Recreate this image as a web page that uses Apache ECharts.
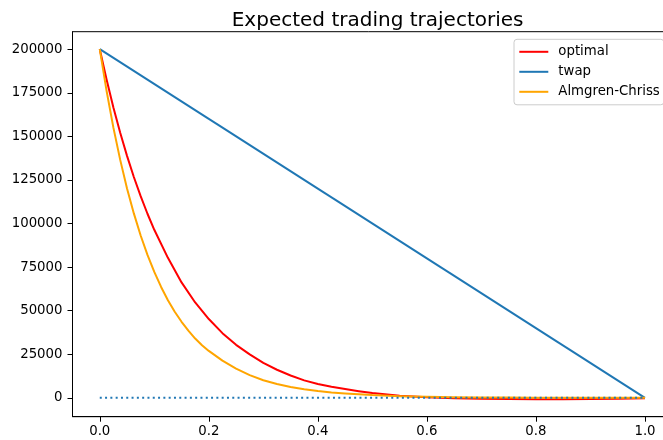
<!DOCTYPE html>
<html><head><meta charset="utf-8">
<script src="https://cdn.jsdelivr.net/npm/echarts@6/dist/echarts.min.js"></script>
<style>html,body{margin:0;padding:0;background:#fff}#c{width:663px;height:440px}</style>
</head><body><div id="c"></div>
<script>
const title = "Expected trading trajectories";
const seriesNames = ["optimal", "twap", "Almgren-Chriss"];
const optT = [0,0.0125,0.025,0.0375,0.05,0.0625,0.075,0.0875,0.1,0.125,0.15,0.175,0.2,0.225,0.25,0.275,0.3,0.325,0.35,0.375,0.4,0.425,0.45,0.475,0.5,0.55,0.6,0.65,0.7,0.75,0.8,0.85,0.9,0.95,1.0];
const optV = [200000,182600,166600,152100,138800,126700,115700,105600,96400,80300,66200,54700,45200,37100,30400,24900,20000,16100,12800,10000,7900,6300,5000,3800,2700,1200,250,-300,-550,-700,-780,-800,-750,-600,-300];
const acT = [0,0.0125,0.025,0.0375,0.05,0.0625,0.075,0.0875,0.1,0.1125,0.125,0.1375,0.15,0.1625,0.175,0.1875,0.2,0.225,0.25,0.275,0.3,0.325,0.35,0.375,0.4,0.425,0.45,0.5,0.55,0.6,0.65,0.7,0.75,0.8,0.9,1.0];
const acV = [200000,176100,155000,136500,120100,105800,93100,82000,72200,63600,56000,49400,43600,38500,34000,30200,26900,21300,16700,13000,10100,7900,6200,4900,3900,3100,2500,1550,950,560,330,200,120,70,25,0];
const twapT = [0, 1];
const twapV = [200000, 0];
const zeroT = [0, 1];
const zeroV = [0, 0];
const xTicks = [0, 0.2, 0.4, 0.6, 0.8, 1.0];
const yTicks = [0, 25000, 50000, 75000, 100000, 125000, 150000, 175000, 200000];

const zip = (a, b) => a.map((v, i) => [v, b[i]]);
const font = "DejaVu Sans";
const chart = echarts.init(document.getElementById('c'), null, {renderer: 'canvas'});
chart.setOption({
  animation: false,
  backgroundColor: '#fff',
  title: {text: title, left: 372.6, top: 6, textAlign: 'center',
    textStyle: {fontFamily: font, fontSize: 20, fontWeight: 'normal', color: '#000'}},
  grid: {left: 72.5, right: -9.25, top: 31.7, bottom: 23.3, outerBoundsMode: 'none', containLabel: false,
    show: true, borderColor: '#000', borderWidth: 1, backgroundColor: 'transparent'},
  legend: {
    data: seriesNames, orient: 'vertical', left: 514, top: 39.3,
    icon: 'rect', itemWidth: 29, itemHeight: 2, itemGap: 6,
    padding: [5.5, 4, 6, 5.3],
    backgroundColor: 'rgba(255,255,255,0.8)', borderColor: '#cccccc', borderWidth: 1, borderRadius: 3,
    textStyle: {fontFamily: font, fontSize: 13.3, color: '#000', lineHeight: 14, padding: [0, 0, 0, 5]}
  },
  xAxis: {
    type: 'value', min: -0.05, max: 1.05,
    axisLine: {show: true, onZero: false, lineStyle: {color: '#000', width: 1}},
    axisTick: {show: true, length: 5, lineStyle: {color: '#000'}, customValues: xTicks},
    axisLabel: {customValues: xTicks, formatter: v => v.toFixed(1), margin: 8,
      fontFamily: font, fontSize: 13.3, color: '#000'},
    splitLine: {show: false}
  },
  yAxis: {
    type: 'value', min: -10840, max: 210040,
    axisLine: {show: true, onZero: false, lineStyle: {color: '#000', width: 1}},
    axisTick: {show: true, length: 5, lineStyle: {color: '#000'}, customValues: yTicks},
    axisLabel: {customValues: yTicks, formatter: v => String(v), margin: 10,
      fontFamily: font, fontSize: 13.3, color: '#000'},
    splitLine: {show: false}
  },
  series: [
    {name: seriesNames[0], type: 'line', data: zip(optT, optV), showSymbol: false, smooth: false,
      lineStyle: {color: '#ff0000', width: 2, join: 'round'}, itemStyle: {color: '#ff0000'}},
    {name: seriesNames[1], type: 'line', data: zip(twapT, twapV), showSymbol: false,
      lineStyle: {color: '#1f77b4', width: 2}, itemStyle: {color: '#1f77b4'}},
    {name: seriesNames[2], type: 'line', data: zip(acT, acV), showSymbol: false, smooth: false,
      lineStyle: {color: '#ffa500', width: 2, join: 'round'}, itemStyle: {color: '#ffa500'}},
    {name: 'zero', type: 'line', data: zip(zeroT, zeroV), showSymbol: false,
      lineStyle: {color: '#1f77b4', width: 2, type: [2, 3.3]}, itemStyle: {color: '#1f77b4'}}
  ]
});
</script></body></html>
